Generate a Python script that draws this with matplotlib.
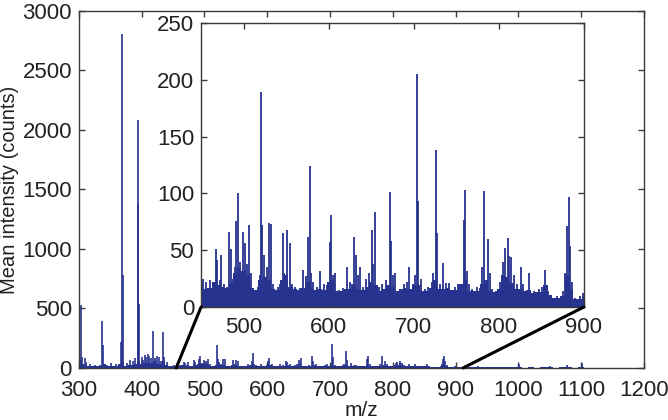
import numpy as np
import matplotlib.pyplot as plt
from matplotlib.patches import ConnectionPatch

plt.rcParams['font.family'] = ['Liberation Sans', 'DejaVu Sans']

# smooth background envelope of the mean spectrum (m/z, counts)
bg_mz = [300, 305, 310, 315, 320, 325, 330, 335, 340, 345, 350, 355, 360, 365, 370,
         375, 380, 385, 390, 395, 400, 405, 410, 415, 420, 425, 430, 435, 440, 445,
         450, 455, 460, 465, 470, 475, 480, 485, 490, 495, 500, 505, 510, 515, 520,
         525, 530, 535, 540, 545, 550, 555, 560, 565, 570, 575, 580, 585, 590, 595,
         600, 605, 610, 615, 620, 625, 630, 635, 640, 645, 650, 655, 660, 665, 670,
         675, 680, 685, 690, 695, 700, 705, 710, 715, 720, 725, 730, 735, 740, 745,
         750, 755, 760, 765, 770, 775, 780, 785, 790, 795, 800, 805, 810, 815, 820,
         825, 830, 835, 840, 845, 850, 855, 860, 865, 870, 875, 880, 885, 890, 895,
         900, 910, 920, 930, 940, 950, 960, 970, 980, 990, 1000, 1010, 1020, 1030,
         1040, 1050, 1060, 1070, 1080, 1090, 1100, 1110, 1120, 1125]
bg_int = [25, 35, 25, 15, 18, 14, 16, 20, 35, 15, 14, 16, 20, 35, 50,
          20, 25, 28, 35, 50, 35, 40, 45, 40, 55, 35, 35, 55, 28, 20,
          18, 16, 17, 22, 19, 18, 17, 21, 30, 34, 32, 28, 17, 15, 24,
          26, 24, 16, 15, 24, 28, 18, 16, 15, 17, 22, 16, 15, 16, 15,
          22, 24, 14, 14, 16, 16, 19, 16, 15, 18, 22, 19, 14, 16, 19,
          18, 14, 16, 17, 16, 19, 19, 14, 14, 17, 24, 16, 16, 17, 15,
          15, 20, 24, 14, 14, 14, 20, 24, 14, 13, 16, 28, 26, 21, 16,
          16, 14, 15, 12, 13, 13, 19, 11, 8, 8, 10, 28, 15, 7, 7,
          9, 9, 7, 9, 6, 5, 4, 5, 4, 5, 6, 3, 4, 3,
          4, 5, 3, 4, 5, 3, 5, 2, 1, 0]

# peaks
pk_mz = [302.7, 305, 310.6, 337, 339, 367, 368.6, 369.7, 394, 394.7, 395.7, 405, 410,
         417.5, 425, 434, 436,
         467, 469, 474, 483, 485, 491, 493.5, 499, 502, 506, 520.5, 522, 524, 530, 532,
         546, 550.7, 554, 570, 576, 577.7, 590, 601.6, 603, 621, 630, 632, 636.5,
         650.5, 654.5, 671.7, 673, 695, 703.4, 704.6, 725.8, 727, 734, 759, 760.6,
         782.5, 787, 807, 810.7, 814, 825.6, 835, 854, 879.7, 882, 883.6, 899,
         935, 1000.5, 1050, 1078, 1102]
pk_int = [527, 90, 80, 395, 190, 220, 2804, 780, 2083, 1380, 540, 110, 120,
          308, 100, 303, 90,
          51, 41, 46, 66, 51, 76, 100, 66, 56, 72, 189, 72, 46, 74, 73,
          65, 68, 56, 33, 62, 124, 32, 57, 81, 35, 62, 46, 35,
          68, 84, 101, 58, 35, 205, 93, 138, 65, 39, 77, 103,
          102, 60, 52, 61, 44, 35, 30, 33, 71, 97, 54, 12,
          20, 35, 15, 22, 38]

# small spikes giving the ragged top of the background
sm_mz = [304, 312, 318, 325, 333, 345, 352, 360, 376, 381, 386, 390, 400, 403, 407,
         412, 415, 421, 428, 431, 441,
         452, 456, 461, 464, 472, 477, 480, 488, 490, 496, 504, 509, 513, 517, 519,
         527, 535, 541, 543, 548, 557, 561, 566, 573, 579, 582, 586, 594, 598, 605,
         607, 612, 617, 625, 628, 634, 640, 644, 647, 652, 659, 663, 667, 676, 678,
         684, 689, 692, 699, 701, 708, 713, 717, 721, 723, 731, 738, 742, 748, 752,
         756, 763, 765, 769, 774, 778, 780, 790, 792, 797, 802, 805, 812, 818, 821,
         829, 841, 847, 851, 858, 868, 876, 878, 886, 890, 895]
sm_int = [70, 50, 35, 25, 28, 25, 40, 35, 40, 70, 60, 80, 90, 70, 90,
          100, 80, 80, 90, 60, 50,
          25, 22, 24, 18, 24, 20, 18, 25, 35, 40, 38, 30, 15, 18, 28,
          35, 20, 18, 20, 30, 20, 18, 17, 27, 30, 22, 18, 20, 19, 28,
          30, 15, 17, 22, 20, 28, 18, 25, 30, 38, 18, 20, 24, 28, 30,
          16, 20, 22, 20, 28, 25, 16, 18, 22, 30, 20, 21, 21, 18, 20,
          18, 32, 20, 16, 18, 17, 35, 30, 16, 14, 22, 40, 45, 28, 20,
          20, 14, 16, 18, 14, 10, 14, 30, 22, 8, 10]

blue = '#27338f'
edge = '#3a3a3a'


def draw_spectrum(ax, lw):
    ax.fill_between(bg_mz, 0, bg_int, color=blue, linewidth=0, step='mid')
    ax.vlines(sm_mz, 0, sm_int, color=blue, linewidth=lw)
    ax.vlines(pk_mz, 0, pk_int, color=blue, linewidth=lw)


def style(ax, fs):
    for s in ax.spines.values():
        s.set_color(edge)
        s.set_linewidth(1.0)
    ax.tick_params(direction='in', top=True, right=True, length=4, width=1,
                   color=edge, labelsize=fs, labelcolor='#222222')
    ax.tick_params(axis='x', pad=9)
    ax.tick_params(axis='y', pad=5)


fig = plt.figure(figsize=(6.68, 4.2), dpi=100)
ax = fig.add_axes([0.118, 0.124, 0.846, 0.850])
draw_spectrum(ax, 1.2)
ax.set_xlim(300, 1200)
ax.set_ylim(0, 3000)
ax.set_xticks(np.arange(300, 1201, 100))
ax.set_yticks(np.arange(0, 3001, 500))
style(ax, 16)
ax.set_xlabel('m/z', fontsize=15, color='#222222', labelpad=0)
ax.set_ylabel('Mean intensity (counts)', fontsize=14.5, color='#222222', labelpad=2)

ins = fig.add_axes([0.301, 0.269, 0.573, 0.676])
draw_spectrum(ins, 1.3)
ins.set_xlim(450, 900)
ins.set_ylim(0, 250)
ins.set_xticks(np.arange(500, 901, 100))
ins.set_yticks(np.arange(0, 251, 50))
style(ins, 16)
ins.tick_params(axis='x', pad=7)

for xa, xb in [(455, 450), (912, 900)]:
    con = ConnectionPatch(xyA=(xa, 0), coordsA=ax.transData,
                          xyB=(xb, 0), coordsB=ins.transData,
                          color='black', linewidth=2.2)
    fig.add_artist(con)

fig.savefig('out.png', dpi=100)
